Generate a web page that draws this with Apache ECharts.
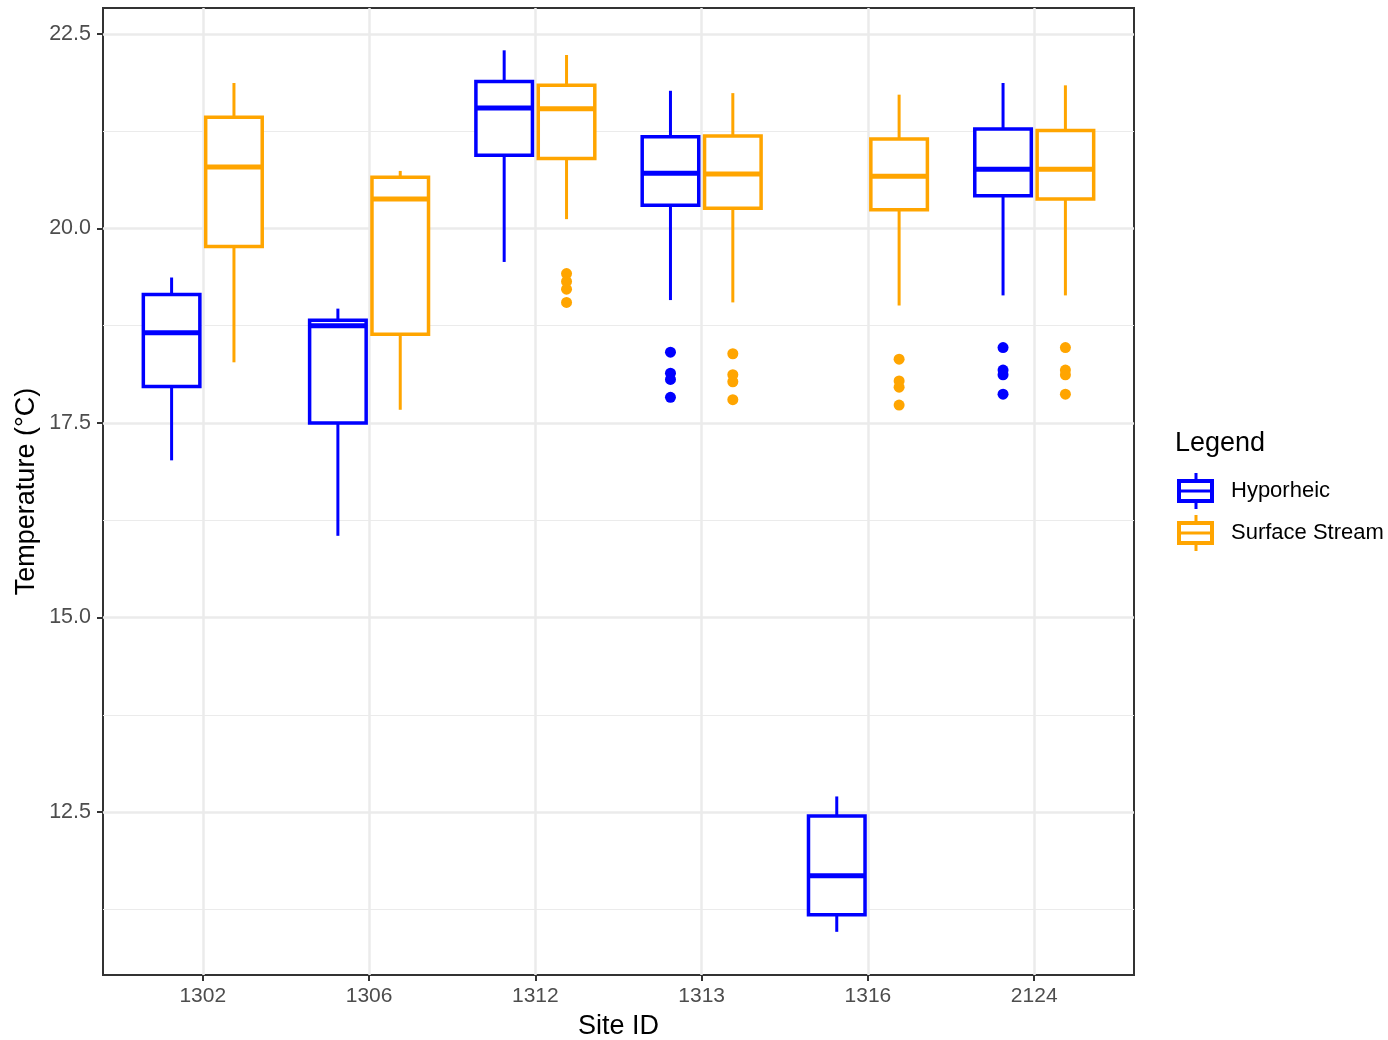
<!DOCTYPE html>
<html>
<head>
<meta charset="utf-8">
<script src="https://cdn.jsdelivr.net/npm/echarts@6/dist/echarts.min.js"></script>
<style>
    html, body { margin: 0; padding: 0; background: #fff; }
    #chart { width: 1388px; height: 1040px; }
</style>
</head>
<body>
<div id="chart"></div>
<script>
var sites = ['1302', '1306', '1312', '1313', '1316', '2124'];

// [lower whisker, Q1, median, Q3, upper whisker] per site
var hyporheicStats = [
    [17.02, 17.97, 18.66, 19.15, 19.37],
    [16.05, 17.50, 18.75, 18.82, 18.97],
    [19.57, 20.94, 21.55, 21.89, 22.29],
    [19.08, 20.30, 20.71, 21.18, 21.77],
    [10.96, 11.18, 11.68, 12.45, 12.70],
    [19.14, 20.42, 20.76, 21.28, 21.87]
];
var surfaceStats = [
    [18.28, 19.77, 20.79, 21.43, 21.87],
    [17.67, 18.64, 20.38, 20.66, 20.74],
    [20.12, 20.90, 21.54, 21.84, 22.23],
    [19.05, 20.26, 20.70, 21.19, 21.74],
    [19.01, 20.24, 20.67, 21.15, 21.72],
    [19.14, 20.38, 20.76, 21.26, 21.84]
];

// outliers per site
var hyporheicOutliers = [
    [],
    [],
    [],
    [18.41, 18.14, 18.06, 17.83],
    [],
    [18.47, 18.18, 18.12, 17.87]
];
var surfaceOutliers = [
    [],
    [],
    [19.42, 19.32, 19.22, 19.05],
    [18.39, 18.12, 18.03, 17.80],
    [18.32, 18.04, 17.96, 17.73],
    [18.47, 18.18, 18.12, 17.87]
];

var yTicks = [12.5, 15.0, 17.5, 20.0, 22.5];
var yMinorTicks = [11.25, 13.75, 16.25, 18.75, 21.25];
var xTicks = [1, 2, 3, 4, 5, 6];

var BLUE = '#0000FF';
var ORANGE = '#FFA500';
var DODGE = 0.1875;
var BOX_W = 0.34;
var FONT = '"Liberation Sans", Arial, sans-serif';

function boxData(stats, offset) {
    return stats.map(function (s, i) {
        return [i + 1 + offset].concat(s);
    });
}

function outlierData(list, offset) {
    var out = [];
    list.forEach(function (vals, i) {
        vals.forEach(function (v) {
            out.push([i + 1 + offset, v]);
        });
    });
    return out;
}

function renderBox(params, api) {
    var x = api.value(0);
    var lo = api.coord([x, api.value(1)]);
    var q1 = api.coord([x, api.value(2)]);
    var med = api.coord([x, api.value(3)]);
    var q3 = api.coord([x, api.value(4)]);
    var hi = api.coord([x, api.value(5)]);
    var halfW = api.size([BOX_W, 0])[0] / 2;
    var color = api.visual('color');
    return {
        type: 'group',
        children: [
            { type: 'line', shape: { x1: lo[0], y1: lo[1], x2: q1[0], y2: q1[1] },
              style: { stroke: color, lineWidth: 3 } },
            { type: 'line', shape: { x1: q3[0], y1: q3[1], x2: hi[0], y2: hi[1] },
              style: { stroke: color, lineWidth: 3 } },
            { type: 'rect', shape: { x: q3[0] - halfW, y: q3[1], width: halfW * 2, height: q1[1] - q3[1] },
              style: { fill: '#fff', stroke: color, lineWidth: 3.5 } },
            { type: 'line', shape: { x1: med[0] - halfW, y1: med[1], x2: med[0] + halfW, y2: med[1] },
              style: { stroke: color, lineWidth: 5 } }
        ]
    };
}

// box-and-whisker legend key, 37 x 36
var boxIcon = 'path://M17.5 0H20.5V6H37V30H20.5V36H17.5V30H0V6H17.5Z' +
    'M4 10V16.5H33V10Z' +
    'M4 19.5V26H33V19.5Z';

var chart = echarts.init(document.getElementById('chart'));

chart.setOption({
    backgroundColor: '#fff',
    animation: false,
    textStyle: { fontFamily: FONT },
    title: {
        text: 'Legend',
        left: 1175,
        top: 430,
        padding: 0,
        textStyle: { fontFamily: FONT, fontSize: 27, fontWeight: 'normal', color: '#000' }
    },
    legend: {
        data: [
            { name: 'Hyporheic', icon: boxIcon },
            { name: 'Surface Stream', icon: boxIcon }
        ],
        orient: 'vertical',
        left: 1177,
        top: 473,
        padding: 0,
        itemWidth: 37,
        itemHeight: 36,
        itemGap: 6,
        textStyle: { fontFamily: FONT, fontSize: 22, color: '#000', padding: [2, 0, 0, 12] }
    },
    grid: {
        left: 103,
        right: 254,
        top: 8,
        bottom: 65,
        outerBoundsMode: 'none',
        containLabel: false,
        show: true,
        borderColor: '#333333',
        borderWidth: 2,
        backgroundColor: '#fff'
    },
    xAxis: {
        type: 'value',
        min: 0.4,
        max: 6.6,
        name: 'Site ID',
        nameLocation: 'middle',
        nameGap: 38,
        nameTextStyle: { fontFamily: FONT, fontSize: 27, color: '#000' },
        axisLine: { show: false },
        axisTick: { show: true, customValues: xTicks, length: 6, lineStyle: { color: '#333', width: 2 } },
        axisLabel: {
            customValues: xTicks,
            margin: 11,
            fontFamily: FONT,
            fontSize: 21,
            color: '#4D4D4D',
            formatter: function (v) { return sites[Math.round(v) - 1]; }
        },
        splitLine: { show: true, lineStyle: { color: '#EBEBEB', width: 2.5 } }
    },
    yAxis: [
        {
            type: 'value',
            min: 10.405,
            max: 22.834,
            name: 'Temperature (°C)',
            nameLocation: 'middle',
            nameGap: 63,
            nameMoveOverlap: false,
            nameTextStyle: { fontFamily: FONT, fontSize: 27, color: '#000' },
            axisLine: { show: false },
            axisTick: { show: true, customValues: yTicks, length: 6, lineStyle: { color: '#333', width: 2 } },
            axisLabel: {
                customValues: yTicks,
                margin: 12,
                fontFamily: FONT,
                fontSize: 21.5,
                color: '#4D4D4D',
                formatter: function (v) { return v.toFixed(1); }
            },
            splitLine: { show: true, lineStyle: { color: '#EBEBEB', width: 2.5 } }
        },
        {
            type: 'value',
            position: 'right',
            min: 10.405,
            max: 22.834,
            axisLine: { show: false },
            axisTick: { show: false, customValues: yMinorTicks },
            axisLabel: { show: false, customValues: yMinorTicks },
            splitLine: { show: true, lineStyle: { color: '#EBEBEB', width: 1.2 } }
        }
    ],
    series: [
        {
            name: 'Hyporheic',
            type: 'custom',
            color: BLUE,
            itemStyle: { color: BLUE },
            renderItem: renderBox,
            encode: { x: 0, y: [1, 2, 3, 4, 5] },
            data: boxData(hyporheicStats, -DODGE),
            z: 3
        },
        {
            name: 'Surface Stream',
            type: 'custom',
            color: ORANGE,
            itemStyle: { color: ORANGE },
            renderItem: renderBox,
            encode: { x: 0, y: [1, 2, 3, 4, 5] },
            data: boxData(surfaceStats, DODGE),
            z: 3
        },
        {
            name: 'Hyporheic',
            type: 'scatter',
            symbol: 'circle',
            symbolSize: 11,
            itemStyle: { color: BLUE, opacity: 1 },
            data: outlierData(hyporheicOutliers, -DODGE),
            z: 4
        },
        {
            name: 'Surface Stream',
            type: 'scatter',
            symbol: 'circle',
            symbolSize: 11,
            itemStyle: { color: ORANGE, opacity: 1 },
            data: outlierData(surfaceOutliers, DODGE),
            z: 4
        }
    ]
});
</script>
</body>
</html>
